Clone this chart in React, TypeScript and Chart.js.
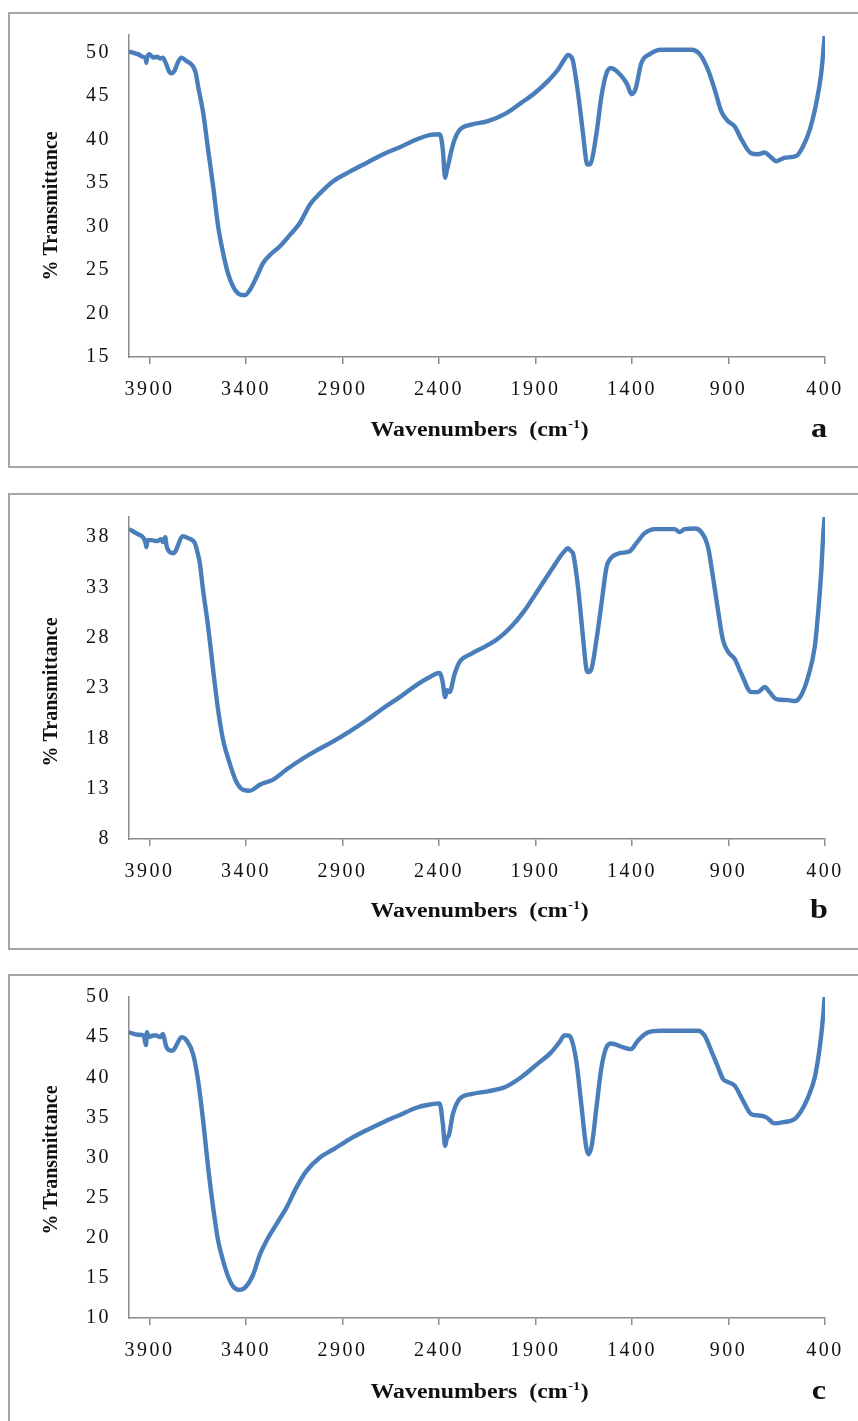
import React, { useEffect, useRef } from 'react';
import { Chart, registerables } from 'chart.js';

Chart.register(...registerables);

const FONT = '"Liberation Serif", "Times New Roman", serif';
const LINE_COLOR = '#4a7ebb';
const AXIS_COLOR = '#8c8c8c';

const xTicks = [3900, 3400, 2900, 2400, 1900, 1400, 900, 400];
const yTicksA = [15, 20, 25, 30, 35, 40, 45, 50];
const yTicksB = [8, 13, 18, 23, 28, 33, 38];
const yTicksC = [10, 15, 20, 25, 30, 35, 40, 45, 50];

const wnA = [4006, 3960, 3935, 3920, 3916, 3912, 3900, 3880, 3860, 3845, 3830, 3820, 3812, 3798, 3786, 3770, 3752, 3734, 3708, 3674, 3660, 3648, 3622, 3596, 3570, 3544, 3518, 3493, 3467, 3441, 3406, 3380, 3345, 3311, 3277, 3225, 3173, 3121, 3069, 3017, 2948, 2862, 2775, 2689, 2603, 2517, 2450, 2400, 2390, 2380, 2368, 2358, 2354, 2337, 2319, 2293, 2233, 2147, 2060, 1974, 1905, 1836, 1784, 1750, 1732, 1715, 1706, 1680, 1654, 1635, 1628, 1615, 1584, 1558, 1532, 1510, 1455, 1424, 1403, 1383, 1351, 1308, 1248, 1093, 1049, 1006, 971, 937, 902, 868, 833, 782, 747, 712, 687, 652, 609, 549, 514, 479, 445, 419, 402];
const trA = [50.1, 49.8, 49.5, 49.3, 48.8, 49.4, 49.8, 49.4, 49.5, 49.3, 49.4, 49.0, 48.6, 47.8, 47.6, 47.9, 48.9, 49.4, 49.0, 48.4, 47.6, 46.1, 43.1, 38.8, 34.6, 30.0, 26.9, 24.6, 23.1, 22.3, 22.1, 22.7, 24.2, 25.8, 26.7, 27.7, 29.0, 30.4, 32.5, 33.8, 35.2, 36.3, 37.3, 38.3, 39.1, 40.0, 40.5, 40.6, 40.3, 38.8, 35.6, 36.6, 36.9, 38.6, 40.0, 41.1, 41.7, 42.1, 42.9, 44.2, 45.3, 46.7, 48.0, 49.2, 49.7, 49.5, 49.0, 45.4, 40.7, 37.3, 37.1, 37.2, 40.7, 45.0, 47.6, 48.2, 47.3, 46.3, 45.2, 45.7, 48.8, 49.8, 50.3, 50.3, 49.8, 48.0, 45.7, 43.2, 42.1, 41.5, 40.0, 38.4, 38.3, 38.5, 38.1, 37.5, 37.9, 38.1, 39.2, 41.1, 44.2, 47.7, 51.9];

const wnB = [4006, 3960, 3930, 3920, 3916, 3910, 3890, 3860, 3840, 3830, 3818, 3812, 3803, 3778, 3765, 3752, 3729, 3700, 3665, 3650, 3639, 3622, 3596, 3570, 3544, 3518, 3484, 3450, 3415, 3380, 3328, 3259, 3190, 3121, 3034, 2948, 2862, 2775, 2689, 2603, 2517, 2447, 2400, 2390, 2380, 2368, 2358, 2345, 2319, 2293, 2233, 2164, 2095, 2026, 1957, 1888, 1819, 1767, 1745, 1732, 1715, 1706, 1680, 1654, 1634, 1628, 1612, 1584, 1558, 1532, 1510, 1464, 1412, 1377, 1334, 1282, 1179, 1153, 1127, 1075, 1041, 1006, 980, 954, 929, 902, 868, 833, 782, 747, 712, 687, 652, 592, 557, 523, 488, 453, 436, 419, 410, 402];
const trB = [38.8, 38.3, 37.9, 37.4, 37.0, 37.7, 37.7, 37.6, 37.8, 37.5, 38.0, 37.2, 36.7, 36.4, 36.6, 37.2, 38.1, 37.9, 37.4, 36.4, 35.4, 32.7, 29.1, 24.8, 20.8, 17.8, 15.5, 13.7, 12.9, 12.8, 13.4, 13.9, 14.9, 15.8, 16.8, 17.7, 18.7, 19.8, 21.0, 22.1, 23.3, 24.1, 24.5, 24.3, 23.5, 22.1, 22.8, 22.6, 24.4, 25.6, 26.4, 27.1, 27.9, 29.1, 30.7, 32.7, 34.7, 36.2, 36.7, 36.9, 36.6, 36.4, 33.1, 28.1, 24.7, 24.6, 24.8, 27.8, 31.4, 35.0, 35.9, 36.4, 36.6, 37.4, 38.4, 38.8, 38.8, 38.5, 38.8, 38.85, 38.5, 37.0, 34.0, 30.7, 27.8, 26.6, 25.9, 24.4, 22.6, 22.6, 23.1, 22.6, 21.9, 21.8, 21.7, 22.3, 24.1, 27.1, 30.4, 34.7, 38.0, 40.0];

const wnC = [4006, 3960, 3930, 3918, 3913, 3905, 3880, 3864, 3845, 3830, 3820, 3812, 3786, 3775, 3760, 3734, 3708, 3674, 3648, 3622, 3596, 3570, 3544, 3518, 3493, 3467, 3432, 3398, 3363, 3328, 3294, 3242, 3190, 3139, 3087, 3017, 2948, 2862, 2775, 2689, 2603, 2517, 2447, 2397, 2380, 2368, 2358, 2350, 2328, 2293, 2233, 2147, 2060, 1974, 1888, 1819, 1775, 1750, 1730, 1718, 1689, 1663, 1637, 1625, 1607, 1584, 1558, 1532, 1506, 1455, 1406, 1368, 1317, 1248, 1058, 1024, 989, 954, 929, 902, 868, 825, 782, 730, 704, 661, 618, 557, 523, 488, 453, 427, 410, 402];
const trC = [45.6, 45.3, 45.2, 44.0, 45.6, 45.0, 45.2, 45.2, 45.0, 45.4, 44.5, 43.75, 43.3, 43.4, 44.0, 45.0, 44.6, 42.9, 39.6, 34.6, 28.75, 23.75, 19.6, 17.1, 15.2, 13.95, 13.5, 13.95, 15.4, 17.9, 19.6, 21.7, 23.75, 26.25, 28.3, 30.0, 31.0, 32.3, 33.4, 34.4, 35.3, 36.2, 36.6, 36.75, 34.2, 31.45, 32.5, 32.7, 35.4, 37.3, 37.9, 38.25, 38.75, 40.0, 41.7, 43.1, 44.4, 45.2, 45.2, 45.0, 42.1, 36.7, 31.25, 30.4, 31.7, 36.25, 41.25, 43.75, 44.2, 43.8, 43.5, 44.6, 45.6, 45.8, 45.8, 45.2, 43.3, 41.25, 39.8, 39.4, 38.95, 37.1, 35.4, 35.2, 35.0, 34.25, 34.4, 34.8, 35.8, 37.5, 40.0, 43.75, 47.5, 50.0];

const yTitle = '% Transmittance';
const xTitleMain = 'Wavenumbers  (cm';
const xTitleSup = '-1';
const xTitleEnd = ')';

type PanelCfg = {
  wn: number[];
  tr: number[];
  yMin: number;
  yMax: number;
  yTicks: number[];
  letter: string;
  top: number;
  height: number;
  plotTop: number;
  plotBottom: number;
  boxHeight: number;
  yTitleY: number;
};

const panels: PanelCfg[] = [
  { wn: wnA, tr: trA, yMin: 15, yMax: 52, yTicks: yTicksA, letter: 'a', top: 0, height: 481, plotTop: 35, plotBottom: 357, boxHeight: 454, yTitleY: 206 },
  { wn: wnB, tr: trB, yMin: 8, yMax: 40, yTicks: yTicksB, letter: 'b', top: 481, height: 481, plotTop: 36, plotBottom: 358, boxHeight: 455, yTitleY: 211 },
  { wn: wnC, tr: trC, yMin: 10, yMax: 50, yTicks: yTicksC, letter: 'c', top: 962, height: 459, plotTop: 35, plotBottom: 356, boxHeight: 600, yTitleY: 198 },
];

function makeDecor(cfg: PanelCfg) {
  return {
    id: 'decor',
    beforeLayout(chart: any) {
      chart.ctx.letterSpacing = '2.5px';
    },
    beforeDraw(chart: any) {
      const ctx = chart.ctx;
      ctx.letterSpacing = '2.5px';
      ctx.save();
      ctx.fillStyle = '#ffffff';
      ctx.fillRect(0, 0, chart.width, chart.height);
      ctx.strokeStyle = '#a6a6a6';
      ctx.lineWidth = 2;
      ctx.strokeRect(9, 13, 900, cfg.boxHeight);
      ctx.restore();
    },
    afterDraw(chart: any) {
      const ctx = chart.ctx;
      // y title
      ctx.save();
      ctx.letterSpacing = '0px';
      ctx.fillStyle = '#111';
      ctx.font = `bold 20px ${FONT}`;
      ctx.translate(52, cfg.yTitleY);
      ctx.rotate(-Math.PI / 2);
      ctx.textAlign = 'center';
      ctx.textBaseline = 'middle';
      ctx.fillText(yTitle, 0, 0);
      ctx.restore();
      // x title with superscript
      ctx.save();
      ctx.letterSpacing = '0px';
      ctx.fillStyle = '#111';
      ctx.translate(479, 436);
      ctx.scale(1.19, 1);
      ctx.textAlign = 'left';
      ctx.textBaseline = 'alphabetic';
      ctx.font = `bold 20px ${FONT}`;
      const w1 = ctx.measureText(xTitleMain).width;
      const w3 = ctx.measureText(xTitleEnd).width;
      ctx.font = `bold 12px ${FONT}`;
      const w2 = ctx.measureText(xTitleSup).width;
      const start = -(w1 + w2 + w3) / 2;
      ctx.font = `bold 20px ${FONT}`;
      ctx.fillText(xTitleMain, start, 0);
      ctx.fillText(xTitleEnd, start + w1 + w2 + 1, 0);
      ctx.font = `bold 12px ${FONT}`;
      ctx.fillText(xTitleSup, start + w1 + 0.5, -8);
      ctx.restore();
      // panel letter
      ctx.save();
      ctx.letterSpacing = '0px';
      ctx.fillStyle = '#111';
      ctx.translate(819, 437);
      ctx.scale(1.15, 1);
      ctx.font = `bold 28px ${FONT}`;
      ctx.textAlign = 'center';
      ctx.textBaseline = 'alphabetic';
      ctx.fillText(cfg.letter, 0, 0);
      ctx.restore();
    },
  };
}

function Panel({ cfg }: { cfg: PanelCfg }) {
  const ref = useRef<HTMLCanvasElement | null>(null);
  useEffect(() => {
    if (!ref.current) return;
    const points = cfg.wn.map((w, i) => ({ x: w, y: cfg.tr[i] }));
    const chart = new Chart(ref.current, {
      type: 'line',
      data: {
        datasets: [
          {
            data: points,
            borderColor: LINE_COLOR,
            borderWidth: 4.4,
            pointRadius: 0,
            cubicInterpolationMode: 'monotone',
            fill: false,
          },
        ],
      },
      options: {
        responsive: false,
        animation: false,
        devicePixelRatio: 1,
        layout: { padding: { left: 0, right: 33, top: cfg.plotTop, bottom: 0 } },
        plugins: { legend: { display: false }, tooltip: { enabled: false } },
        scales: {
          x: {
            type: 'linear',
            reverse: true,
            min: 400,
            max: 4006,
            afterBuildTicks: (s: any) => {
              s.ticks = xTicks.map((v) => ({ value: v }));
            },
            afterFit: (s: any) => {
              s.height = cfg.height - cfg.plotBottom;
            },
            grid: { display: true, drawOnChartArea: false, drawTicks: true, tickLength: 7, color: AXIS_COLOR, lineWidth: 1.5 },
            border: { display: true, color: AXIS_COLOR, width: 1.5 },
            ticks: {
              font: { family: FONT, size: 20 },
              color: '#111',
              padding: 14,
              maxRotation: 0,
              autoSkip: false,
              callback: (v: any) => String(v),
            },
          },
          y: {
            type: 'linear',
            min: cfg.yMin,
            max: cfg.yMax,
            afterBuildTicks: (s: any) => {
              s.ticks = cfg.yTicks.map((v) => ({ value: v }));
            },
            afterFit: (s: any) => {
              s.width = 129;
            },
            grid: { display: false, drawTicks: false },
            border: { display: true, color: AXIS_COLOR, width: 1.5 },
            ticks: {
              font: { family: FONT, size: 20 },
              color: '#111',
              padding: 18,
              autoSkip: false,
              callback: (v: any) => String(v),
            },
          },
        },
      },
      plugins: [makeDecor(cfg)],
    } as any);
    return () => chart.destroy();
  }, [cfg]);
  return (
    <canvas
      ref={ref}
      width={858}
      height={cfg.height}
      style={{ position: 'absolute', left: 0, top: cfg.top, width: 858, height: cfg.height, display: 'block' }}
    />
  );
}

export default function App() {
  return (
    <div style={{ position: 'absolute', left: 0, top: 0, width: 858, height: 1421, background: '#ffffff', overflow: 'hidden' }}>
      {panels.map((p) => (
        <Panel key={p.letter} cfg={p} />
      ))}
    </div>
  );
}
